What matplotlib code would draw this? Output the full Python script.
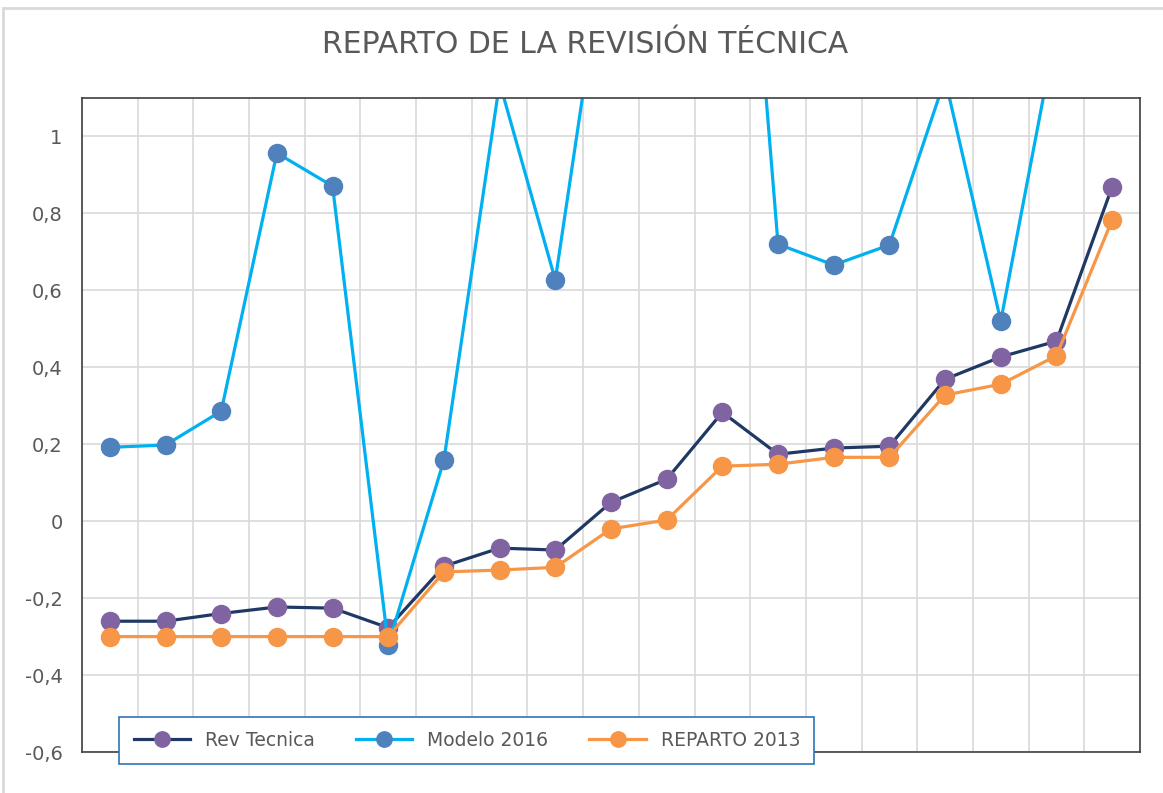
import matplotlib
matplotlib.use("Agg")
import matplotlib.pyplot as plt
import numpy as np

# dati
rev_tecnica = [-0.26, -0.26, -0.24, -0.223, -0.226, -0.277, -0.117, -0.07, -0.075,
               0.049, 0.109, 0.283, 0.174, 0.19, 0.195, 0.369, 0.427, 0.468, 0.869]
modelo_2016 = [0.192, 0.198, 0.286, 0.957, 0.871, -0.322, 0.159, 1.14, 0.627,
               1.6, 2.0, 2.5, 0.72, 0.666, 0.718, 1.15, 0.52, 1.28, 1.4]
reparto_2013 = [-0.30, -0.30, -0.30, -0.30, -0.30, -0.30, -0.132, -0.127, -0.12,
                -0.02, 0.003, 0.143, 0.148, 0.166, 0.166, 0.328, 0.356, 0.43, 0.783]
yticks = [-0.6, -0.4, -0.2, 0, 0.2, 0.4, 0.6, 0.8, 1.0]
ytick_labels = ["-0,6", "-0,4", "-0,2", "0", "0,2", "0,4", "0,6", "0,8", "1"]

x = np.arange(len(rev_tecnica))
txt = "#595959"

fig = plt.figure(figsize=(11.63, 7.93), dpi=100)
ax = fig.add_axes([0.0705, 0.0517, 0.9097, 0.8247])

ax.plot(x, rev_tecnica, '-', color="#1F3864", lw=2.3, marker='o', ms=13,
        mfc="#8064A2", mec="#8064A2", label="Rev Tecnica")
ax.plot(x, modelo_2016, '-', color="#00B0F0", lw=2.3, marker='o', ms=13,
        mfc="#4F81BD", mec="#4F81BD", label="Modelo 2016")
ax.plot(x, reparto_2013, '-', color="#F79646", lw=2.3, marker='o', ms=13,
        mfc="#F79646", mec="#F79646", label="REPARTO 2013")

ax.set_xlim(-0.5, len(x) - 0.5)
ax.set_ylim(-0.6, 1.1)
ax.set_xticks(np.arange(-0.5, len(x), 1))
ax.set_xticklabels([])
ax.set_yticks(yticks)
ax.set_yticklabels(ytick_labels, color=txt, fontsize=14)
ax.tick_params(length=0, pad=14)
ax.grid(True, color="#D9D9D9", lw=1.2)
ax.set_axisbelow(True)
for s in ax.spines.values():
    s.set_color("#404040")
    s.set_linewidth(1.2)

fig.text(0.503, 0.944, "REPARTO DE LA REVISIÓN TÉCNICA", ha="center", va="center",
         fontsize=21.5, color=txt)

leg = ax.legend(loc="center", bbox_to_anchor=(0.4014, 0.0665), bbox_transform=fig.transFigure,
                ncol=3, frameon=True, fancybox=False, framealpha=1, fontsize=13.5,
                handlelength=3.0, columnspacing=2.2, borderpad=0.75, markerscale=0.85)
leg.get_frame().set_edgecolor("#2E75B6")
leg.get_frame().set_linewidth(1.2)
for t in leg.get_texts():
    t.set_color(txt)

# bordo grigio chiaro della figura
fig.patches.append(plt.Rectangle((0.003, -0.01), 1.0, 1.0, transform=fig.transFigure,
                                 fill=False, edgecolor="#D9D9D9", lw=2))

fig.savefig("out.png", dpi=100)
